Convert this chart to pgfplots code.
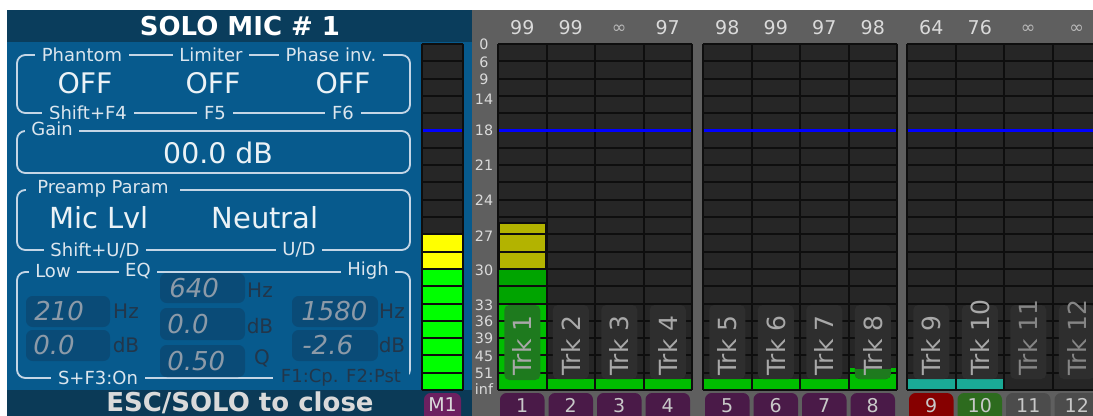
\documentclass[border=0pt]{standalone}
\usepackage{pgfplots}
\pgfplotsset{compat=1.18}
\usepackage{fontspec}
\setmainfont{DejaVu Sans}
\definecolor{panel}{HTML}{075A8D}
\definecolor{hdr}{HTML}{0A3D5C}
\definecolor{hdrb}{HTML}{0B3A57}
\definecolor{field}{HTML}{0A4B77}
\definecolor{boxline}{HTML}{C4D6E6}
\definecolor{lbl}{HTML}{DCE6EE}
\definecolor{valtxt}{HTML}{8C9AA8}
\definecolor{unittxt}{HTML}{22364A}
\definecolor{grayarea}{HTML}{5F5F5F}
\definecolor{cellbg}{HTML}{262626}
\definecolor{gridc}{HTML}{0E0E0E}
\definecolor{boxgray}{HTML}{2E2E2E}
\definecolor{trkgreen}{HTML}{1E7A1E}
\definecolor{trktext}{HTML}{A8A8A8}
\definecolor{trkdim}{HTML}{858585}
\definecolor{mGreen}{HTML}{00FF00}
\definecolor{mYellow}{HTML}{FFFF00}
\definecolor{bGreen}{HTML}{00BE00}
\definecolor{dGreen}{HTML}{00A400}
\definecolor{olv}{HTML}{B3B300}
\definecolor{teal2}{HTML}{1AAA96}
\definecolor{tabpurple}{HTML}{4A1A48}
\definecolor{tabm}{HTML}{6C2060}
\definecolor{tabred}{HTML}{860000}
\definecolor{tabgreen}{HTML}{2D6B1E}
\definecolor{tabgray}{HTML}{4C4C4C}
\definecolor{numtxt}{HTML}{DADADA}
\definecolor{tabtxt}{HTML}{C8C8C8}
\begin{document}
\begin{tikzpicture}[x=0.6pt,y=0.6pt]
\useasboundingbox (0,0) rectangle (1093,416);
\clip (0,0) rectangle (1093,416);
\begin{scope}[y=-0.6pt, yshift=249.6pt]
\fill[white] (0,0) rectangle (1093,416);
\fill[grayarea] (472,10) rectangle (1093,416);
\fill[hdr] (7,10) rectangle (472,42);
\fill[panel] (7,42) rectangle (472,390);
\fill[hdrb] (7,390) rectangle (472,416);
\fill[cellbg] (422,44) rectangle (463,390);
\fill[cellbg] (498,44) rectangle (692,390);
\fill[cellbg] (703,44) rectangle (897,390);
\fill[cellbg] (907,44) rectangle (1101,390);
\end{scope}

\begin{axis}[at={(0,0)}, anchor=south west, scale only axis,
  width=655.8pt, height=249.6pt,
  xmin=-10.268, xmax=12.268, ymin=-1.503, ymax=22.543,
  hide axis, clip=true]
% master meter M1
\addplot[ybar, bar width=0.82, bar shift=0pt, fill=mYellow, draw=none] coordinates {(-1.144,9)};
\addplot[ybar, bar width=0.82, bar shift=0pt, fill=mGreen, draw=none] coordinates {(-1.144,7)};
% track meters
\addplot[ybar, bar width=0.97, bar shift=0pt, fill=olv, draw=gridc, line width=1pt] coordinates {(0.5,9.65)};
\addplot[ybar, bar width=0.97, bar shift=0pt, fill=dGreen, draw=none] coordinates {(0.5,7)};
\addplot[ybar, bar width=0.97, bar shift=0pt, fill=bGreen, draw=none] coordinates {(0.5,5) (1.5,0.63) (2.5,0.63) (3.5,0.63) (4.727,0.63) (5.727,0.63) (6.727,0.63) (7.727,1.27)};
\addplot[ybar, bar width=0.97, bar shift=0pt, fill=teal2, draw=none] coordinates {(8.933,0.63) (9.933,0.63)};
\end{axis}

\begin{scope}[y=-0.6pt, yshift=249.6pt]
% grid lines
\foreach \k in {0,...,20}{
  \draw[gridc, line width=1.2pt] (422,{390-17.3*\k}) -- (463,{390-17.3*\k});
  \draw[gridc, line width=1.2pt] (498,{390-17.3*\k}) -- (692,{390-17.3*\k});
  \draw[gridc, line width=1.2pt] (703,{390-17.3*\k}) -- (897,{390-17.3*\k});
  \draw[gridc, line width=1.2pt] (907,{390-17.3*\k}) -- (1101,{390-17.3*\k});
}
\foreach \xx in {422,463,498,546.5,595,643.5,692,703,751.5,800,848.5,897,907,955.5,1004,1052.5}{
  \draw[gridc, line width=1.2pt] (\xx,44) -- (\xx,390);
}
% blue reference line
\foreach \a/\b in {423/462, 499/691, 704/896, 908/1093}{
  \draw[blue, line width=2.1pt] (\a,130.5) -- (\b,130.5);
}
% label boxes
\foreach \cx in {570.75,619.25,667.75,727.25,775.75,824.25,872.75,931.25,979.75,1028.25,1076.75}{
  \fill[boxgray, rounded corners=3] (\cx-18,305) rectangle (\cx+18,379);
}
\fill[trkgreen, rounded corners=3] (522.25-18,305) rectangle (522.25+18,380);
\begin{scope}
\clip[rounded corners=3] (872.75-18,305) rectangle (872.75+18,379);
\fill[trkgreen] (872.75-18,368.5) rectangle (872.75+18,379);
\end{scope}
% track names
\foreach \cx/\t in {522.25/1,570.75/2,619.25/3,667.75/4,727.25/5,775.75/6,824.25/7,872.75/8,931.25/9,979.75/10}{
  \node[rotate=90, anchor=west, inner sep=0pt, text=trktext, font=\fontsize{15}{18}\selectfont] at (\cx,376) {Trk \t};
}
\foreach \cx/\t in {1028.25/11,1076.75/12}{
  \node[rotate=90, anchor=west, inner sep=0pt, text=trkdim, font=\fontsize{15}{18}\selectfont] at (\cx,376) {Trk \t};
}
% top numbers
\foreach \cx/\t in {522.25/99,570.75/99,667.75/97,727.25/98,775.75/99,824.25/97,872.75/98,931.25/64,979.75/76}{
  \node[text=numtxt, font=\fontsize{11.4}{13}\selectfont] at (\cx,28) {\t};
}
\foreach \cx in {619.25,1028.25,1076.75}{
  \node[text=numtxt!85!black, font=\fontsize{10.5}{12}\selectfont] at (\cx,29) {∞};
}
% scale
\foreach \yy/\t in {44/0,62/6,79/9,99/14,130/18,165/21,200/24,236/27,270/30,305/33,321/36,338/39,356/45,373/51,389/inf}{
  \node[text=numtxt, font=\fontsize{8.6}{10}\selectfont] at (484,\yy) {\t};
}
% tabs
\fill[tabm, rounded corners=4] (424,393) rectangle (461,425);
\node[text=numtxt, font=\fontsize{11.4}{13}\selectfont] at (442.5,405) {M1};
\foreach \l/\c/\t in {498/tabpurple/1,546.5/tabpurple/2,595/tabpurple/3,643.5/tabpurple/4,703/tabpurple/5,751.5/tabpurple/6,800/tabpurple/7,848.5/tabpurple/8,907/tabred/9,955.5/tabgreen/10,1004/tabgray/11,1052.5/tabgray/12}{
  \fill[\c, rounded corners=4] (\l+2,393) rectangle (\l+46.5,425);
  \node[text=tabtxt, font=\fontsize{11.4}{13}\selectfont] at (\l+24.25,405.5) {\t};
}
% header / footer text
\node[text=white, font=\bfseries\fontsize{15.6}{18}\selectfont] at (240,26) {SOLO MIC \# 1};
\node[text=numtxt, font=\bfseries\fontsize{15.6}{18}\selectfont] at (240,403) {ESC/SOLO to close};
% boxes
\tikzset{bx/.style={draw=boxline, line width=1.1pt, rounded corners=5},
  lb/.style={fill=panel, text=lbl, inner ysep=2pt, inner xsep=4pt, font=\fontsize{10.8}{12}\selectfont},
  big/.style={text=white!92!panel, font=\fontsize{17}{20}\selectfont},
  fld/.style={fill=field, rounded corners=4},
  val/.style={text=valtxt, anchor=west, inner sep=0pt, font=\itshape\fontsize{15.6}{18}\selectfont},
  un/.style={text=unittxt, font=\fontsize{12}{14}\selectfont}}
\draw[bx] (17,55) rectangle (410,113);
\node[lb] at (82,55) {Phantom};
\node[lb] at (211,55) {Limiter};
\node[lb] at (331,55) {Phase inv.};
\node[lb] at (88,113) {Shift+F4};
\node[lb] at (215,113) {F5};
\node[lb] at (343,113) {F6};
\node[big] at (85,83) {OFF};
\node[big] at (213,83) {OFF};
\node[big] at (343,83) {OFF};
\draw[bx] (17,131) rectangle (410,173);
\node[lb] at (52,129) {Gain};
\node[big] at (218,153) {00.0 dB};
\draw[bx] (17,190) rectangle (410,250);
\node[lb, inner xsep=7pt] at (103,189) {Preamp Param};
\node[big, font=\fontsize{17.4}{20}\selectfont] at (99,218) {Mic Lvl};
\node[big, font=\fontsize{17.4}{20}\selectfont] at (265,218) {Neutral};
\node[lb] at (95,250) {Shift+U/D};
\node[lb] at (299,250) {U/D};
\draw[bx] (17,272) rectangle (410,378);
\node[lb] at (53,271) {Low};
\node[lb] at (138,271) {EQ};
\node[lb] at (368,271) {High};
\node[lb] at (98,378) {S+F3:On};
\node[lb, text=unittxt, inner xsep=5pt] at (341,378) {F1:Cp. F2:Pst};
\fill[fld] (26,296) rectangle (110,327);
\fill[fld] (26,330) rectangle (110,361);
\fill[fld] (160,273) rectangle (245,303);
\fill[fld] (160,308) rectangle (245,340);
\fill[fld] (160,345) rectangle (245,377);
\fill[fld] (292,296) rectangle (378,327);
\fill[fld] (292,330) rectangle (378,361);
\node[val] at (34,311) {210};
\node[val] at (33,345) {0.0};
\node[val] at (169,288) {640};
\node[val] at (167,324) {0.0};
\node[val] at (167,361) {0.50};
\node[val] at (301,311) {1580};
\node[val] at (302,345) {-2.6};
\node[un] at (126,311) {Hz};
\node[un] at (126,345) {dB};
\node[un] at (260,290) {Hz};
\node[un] at (260,326) {dB};
\node[un] at (262,358) {Q};
\node[un] at (392,311) {Hz};
\node[un] at (392,345) {dB};
\end{scope}
\end{tikzpicture}
\end{document}
